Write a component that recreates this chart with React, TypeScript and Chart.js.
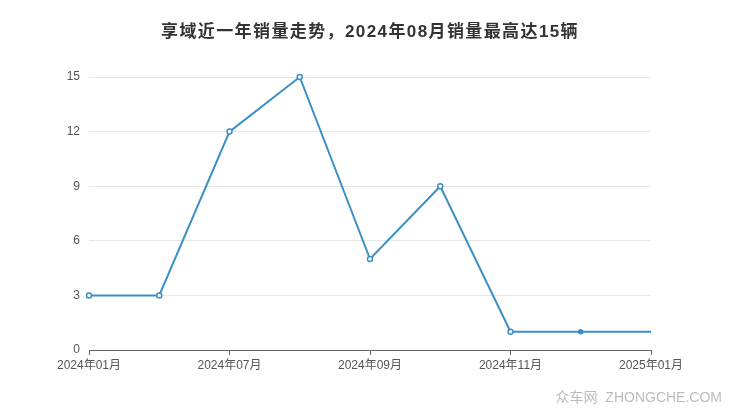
import { useEffect, useRef } from "react";
import Chart from "chart.js/auto";

const MONTHS = [
  "2024年01月",
  "2024年06月",
  "2024年07月",
  "2024年08月",
  "2024年09月",
  "2024年10月",
  "2024年11月",
  "2024年12月",
  "2025年01月",
];
const SALES = [3, 3, 12, 15, 5, 9, 1, 1, 1];
const Y_TICKS = [0, 3, 6, 9, 12, 15];

const TITLE = "享域近一年销量走势，2024年08月销量最高达15辆";
const WATERMARK = "众车网  ZHONGCHE.COM";
const FONT = "'Liberation Sans', 'Noto Sans CJK SC', sans-serif";
const LINE_COLOR = "#3a8fc5";

// 标题居中整张图 + 右下角水印
const textPlugin = {
  id: "texts",
  afterDraw(chart: Chart) {
    const ctx = chart.ctx as any;
    ctx.save();
    ctx.textBaseline = "middle";
    ctx.textAlign = "center";
    ctx.font = `bold 17px ${FONT}`;
    ctx.letterSpacing = "1.4px";
    ctx.fillStyle = "#333333";
    ctx.fillText(TITLE, chart.width / 2, 32);
    ctx.letterSpacing = "0px";
    ctx.font = `14px ${FONT}`;
    ctx.fillStyle = "#bdbdbd";
    ctx.textAlign = "right";
    ctx.fillText(WATERMARK, 722, 398);
    ctx.restore();
  },
};

export default function App() {
  const canvasRef = useRef<HTMLCanvasElement>(null);

  useEffect(() => {
    const ctx = canvasRef.current?.getContext("2d");
    if (!ctx) return;
    const chart = new Chart(ctx, {
      type: "line",
      data: {
        labels: MONTHS,
        datasets: [
          {
            data: SALES,
            borderColor: LINE_COLOR,
            borderWidth: 2,
            backgroundColor: "#ffffff",
            pointBorderColor: LINE_COLOR,
            pointBackgroundColor: (c: any) =>
              c.dataIndex === SALES.length - 2 ? LINE_COLOR : "#ffffff",
            pointBorderWidth: 1.5,
            pointRadius: (c: any) =>
              c.dataIndex === SALES.length - 1 ? 0 : c.dataIndex === SALES.length - 2 ? 2 : 2.5,
            tension: 0,
            fill: false,
            clip: false,
          },
        ],
      },
      options: {
        responsive: false,
        animation: false,
        layout: { padding: { left: 0, right: 89, top: 77, bottom: 0 } },
        plugins: {
          legend: { display: false },
          tooltip: { enabled: false },
          title: { display: false },
        },
        scales: {
          x: {
            offset: false,
            grid: {
              drawOnChartArea: false,
              tickLength: 5,
              color: (c: any) => (c.index % 2 === 0 ? "#666666" : "rgba(0,0,0,0)"),
            },
            border: { color: "#666666", width: 1 },
            ticks: {
              autoSkip: false,
              maxRotation: 0,
              padding: 3,
              color: "#555555",
              font: { family: FONT, size: 12 },
              callback: (_v: any, i: number) => (i % 2 === 0 ? MONTHS[i] : ""),
            },
            afterFit: (scale: any) => {
              scale.height = 67;
            },
          },
          y: {
            min: Y_TICKS[0],
            max: Y_TICKS[Y_TICKS.length - 1],
            afterBuildTicks: (scale: any) => {
              scale.ticks = Y_TICKS.map((v) => ({ value: v }));
            },
            grid: { color: "#e6e6e6", tickLength: 0 },
            border: { display: false },
            ticks: {
              padding: 9,
              color: "#555555",
              font: { family: FONT, size: 12 },
            },
            afterFit: (scale: any) => {
              scale.width = 89;
            },
          },
        },
      },
      plugins: [textPlugin],
    });
    return () => chart.destroy();
  }, []);

  return (
    <div style={{ position: "absolute", left: 0, top: 0, width: 740, height: 417, background: "#ffffff" }}>
      <canvas ref={canvasRef} width={740} height={417} />
    </div>
  );
}
